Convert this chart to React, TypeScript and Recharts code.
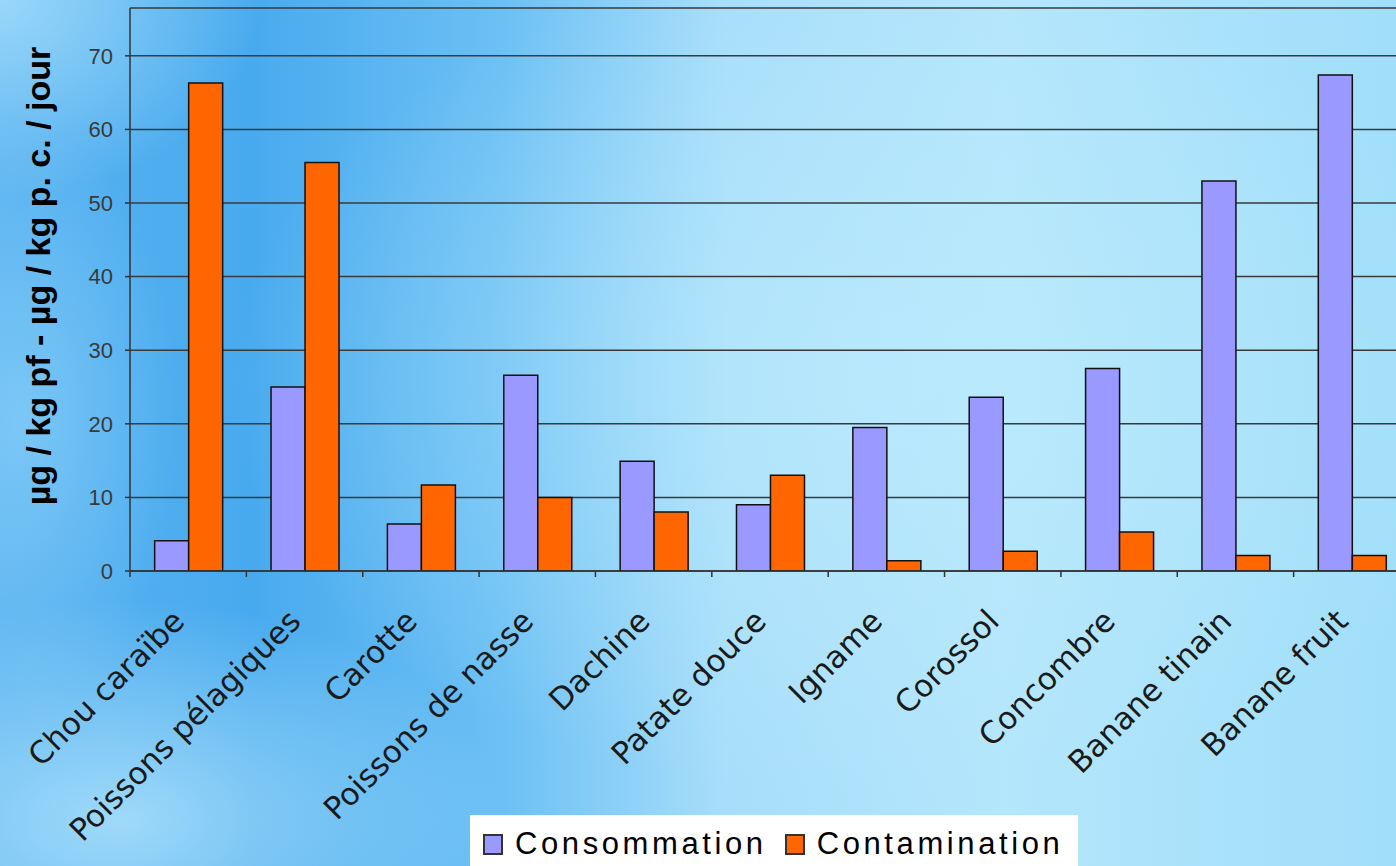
import { BarChart, Bar, XAxis, YAxis, CartesianGrid, Legend } from "recharts";

const categories = [
  "Chou caraïbe",
  "Poissons pélagiques",
  "Carotte",
  "Poissons de nasse",
  "Dachine",
  "Patate douce",
  "Igname",
  "Corossol",
  "Concombre",
  "Banane tinain",
  "Banane fruit",
];

const consommation = [4.1, 25.0, 6.4, 26.6, 14.9, 9.0, 19.5, 23.6, 27.5, 53.0, 67.4];
const contamination = [66.3, 55.5, 11.7, 10.0, 8.0, 13.0, 1.4, 2.7, 5.3, 2.1, 2.1];

const yTicks = [0, 10, 20, 30, 40, 50, 60, 70];

const seriesNames = ["Consommation", "Contamination"];
const seriesColors = ["#9999ff", "#ff6600"];

const data = categories.map((name, i) => ({
  name,
  consommation: consommation[i],
  contamination: contamination[i],
}));

// category label rotated 45deg + tick marks between categories
function CategoryTick(props: any) {
  const { x, y, payload, index } = props;
  const half = payload && payload.offset ? payload.offset : 58;
  return (
    <g>
      <line x1={x - half} y1={y} x2={x - half} y2={y + 6} stroke="#333" strokeWidth={1.5} />
      {index === categories.length - 1 && (
        <line x1={x + half} y1={y} x2={x + half} y2={y + 6} stroke="#333" strokeWidth={1.5} />
      )}
      <text
        x={x - 2}
        y={y + 52}
        textAnchor="end"
        transform={`rotate(-45, ${x - 2}, ${y + 52})`}
        fontFamily="'DejaVu Sans', sans-serif"
        fontSize={31}
        fill="#1a1a1a"
      >
        {payload.value}
      </text>
    </g>
  );
}

function LegendBox() {
  return (
    <div
      style={{
        background: "#fff",
        width: 608,
        height: 60,
        display: "flex",
        alignItems: "flex-start",
        paddingTop: 12,
        paddingLeft: 13,
        boxSizing: "border-box",
        fontFamily: "'Liberation Sans', Arial, sans-serif",
        fontSize: 31,
        letterSpacing: 3.6,
        color: "#000",
        lineHeight: "34px",
      }}
    >
      {seriesNames.map((n, i) => (
        <div key={n} style={{ display: "flex", alignItems: "center", marginRight: 18 }}>
          <span
            style={{
              display: "inline-block",
              width: 16,
              height: 17,
              background: seriesColors[i],
              border: "2px solid #333",
              marginRight: 12,
            }}
          />
          <span>{n}</span>
        </div>
      ))}
    </div>
  );
}

export default function App() {
  return (
    <div
      style={{
        position: "absolute",
        left: 0,
        top: 0,
        width: 1396,
        height: 866,
        overflow: "hidden",
        background:
          "radial-gradient(ellipse 260px 200px at 0px 0px, rgba(170,225,252,0.8), rgba(170,225,252,0) 100%)," +
          "radial-gradient(ellipse 380px 220px at 120px 820px, rgba(185,232,253,0.75), rgba(185,232,253,0) 100%)," +
          "radial-gradient(ellipse 160px 300px at 20px 420px, rgba(160,220,252,0.5), rgba(160,220,252,0) 100%)," +
          "radial-gradient(ellipse 650px 420px at 880px 380px, rgba(190,236,253,0.6), rgba(190,236,253,0) 100%)," +
          "linear-gradient(90deg, #58b2f0 0%, #48aaee 18%, #6cc0f4 36%, #a8defa 52%, #b4e6fc 72%, #a0def9 100%)",
      }}
    >
      <BarChart
        width={1420}
        height={866}
        data={data}
        margin={{ top: 8, right: 10, bottom: 0, left: 0 }}
        barCategoryGap="21.2%"
        barGap={0}
      >
        <CartesianGrid horizontal vertical={false} stroke="#3a3a3a" strokeWidth={1.5} />
        <XAxis
          dataKey="name"
          interval={0}
          tickLine={false}
          tickSize={0}
          tickMargin={0}
          axisLine={{ stroke: "#333", strokeWidth: 1.5 }}
          tick={<CategoryTick />}
          height={295}
        />
        <YAxis
          width={130}
          domain={[0, 76.5]}
          ticks={yTicks}
          allowDataOverflow
          axisLine={{ stroke: "#333", strokeWidth: 1.5 }}
          tickLine={{ stroke: "#333", strokeWidth: 1.5 }}
          tickSize={5}
          tickMargin={12}
          tick={{ fill: "#3a3a3a", fontSize: 22, fontFamily: "'Liberation Sans', Arial, sans-serif" }}
          label={{
            content: () => (
              <text
                x={38}
                y={276}
                textAnchor="middle"
                dominantBaseline="central"
                transform="rotate(-90, 38, 276)"
                fontFamily="'Liberation Sans', Arial, sans-serif"
                fontWeight="bold"
                fontSize={34}
                fill="#000"
              >
                µg / kg pf - µg / kg p. c. / jour
              </text>
            ),
          }}
        />
        <Bar
          dataKey="consommation"
          name={seriesNames[0]}
          fill={seriesColors[0]}
          stroke="#111"
          strokeWidth={1.5}
          isAnimationActive={false}
        />
        <Bar
          dataKey="contamination"
          name={seriesNames[1]}
          fill={seriesColors[1]}
          stroke="#111"
          strokeWidth={1.5}
          isAnimationActive={false}
        />
        <Legend
          layout="horizontal"
          verticalAlign="middle"
          align="center"
          content={() => <LegendBox />}
          wrapperStyle={{ left: 470, top: 815, width: 608, height: 60 }}
        />
      </BarChart>
    </div>
  );
}
